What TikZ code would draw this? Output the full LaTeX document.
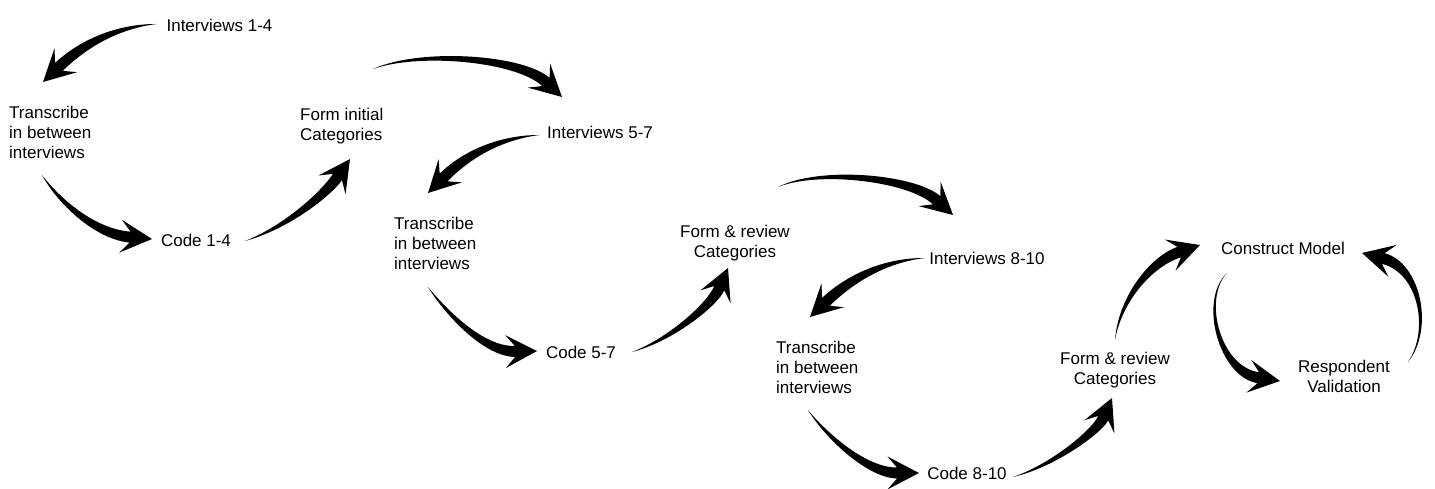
\documentclass[tikz,border=0pt]{standalone}
\usepackage{fontspec}
\setmainfont{Liberation Sans}
\usetikzlibrary{calc}
\tikzset{
  lbl/.style={inner sep=0pt, font=\fontsize{17}{20}\selectfont},
  arrowfill/.style={fill=black},
}
% #1 tail name, #2 first control (x,y), #3 second control (x,y), #4 tip name
\newcommand\swoosh[4]{%
  \coordinate (sw-a) at #2;
  \coordinate (sw-c) at #3;
  \coordinate (sw-b) at ($(#4)!22pt!(sw-c)$);
  \coordinate (sw-l1) at ($(sw-b)!5.5pt!90:(#4)$);
  \coordinate (sw-r1) at ($(sw-b)!5.5pt!-90:(#4)$);
  \coordinate (sw-cl) at ($(sw-c)!5pt!90:(#4)$);
  \coordinate (sw-cr) at ($(sw-c)!5pt!-90:(#4)$);
  \coordinate (sw-al) at ($(sw-a)!2.5pt!90:(sw-c)$);
  \coordinate (sw-ar) at ($(sw-a)!2.5pt!-90:(sw-c)$);
  \coordinate (sw-l2) at ($(sw-b)!19pt!120:(#4)$);
  \coordinate (sw-r2) at ($(sw-b)!19pt!-120:(#4)$);
  \fill[arrowfill] (#1) .. controls (sw-al) and (sw-cl) .. (sw-l1) -- (sw-l2) -- (#4)
     -- (sw-r2) -- (sw-r1) .. controls (sw-cr) and (sw-ar) .. (#1) -- cycle;
}
\begin{document}
\begin{tikzpicture}[x=1pt,y=-1pt]
\useasboundingbox[fill=white] (0,0) rectangle (1435,489);

% labels
\node[lbl] (i1) at (219.5,25) {Interviews 1-4};
\node[lbl, anchor=west, align=left] (t1) at (9,132) {Transcribe\\in between\\interviews};
\node[lbl, anchor=west, align=left] (f1) at (300,126) {Form initial\\Categories};
\node[lbl] (c1) at (196,240) {Code 1-4};
\node[lbl] (i2) at (600,132) {Interviews 5-7};
\node[lbl, anchor=west, align=left] (t2) at (394,243) {Transcribe\\in between\\interviews};
\node[lbl] (c2) at (581,352) {Code 5-7};
\node[lbl, align=center] (f2) at (735,243) {Form \& review\\Categories};
\node[lbl] (i3) at (987,258) {Interviews 8-10};
\node[lbl, anchor=west, align=left] (t3) at (776,367) {Transcribe\\in between\\interviews};
\node[lbl] (c3) at (967,473) {Code 8-10};
\node[lbl, align=center] (f3) at (1115,370) {Form \& review\\Categories};
\node[lbl] (cm) at (1283,248) {Construct Model};
\node[lbl, align=center] (rv) at (1344,376) {Respondent\\Validation};

% arrow end points
\coordinate (a1t) at (157,24);   \coordinate (a1p) at (43,82);
\coordinate (a2t) at (42,175);   \coordinate (a2p) at (152,239);
\coordinate (a3t) at (245,241);  \coordinate (a3p) at (350,159);
\coordinate (a4t) at (373,69);   \coordinate (a4p) at (562,97);
\coordinate (a5t) at (540,135);  \coordinate (a5p) at (428,193);
\coordinate (a6t) at (428,287);  \coordinate (a6p) at (537,351);
\coordinate (a7t) at (632,352);  \coordinate (a7p) at (728,268);
\coordinate (a8t) at (778,187);  \coordinate (a8p) at (953,215);
\coordinate (a9t) at (925,258);  \coordinate (a9p) at (810,317);
\coordinate (a10t) at (808,410); \coordinate (a10p) at (919,473);
\coordinate (a11t) at (1013,477);\coordinate (a11p) at (1112,398);
\coordinate (a12t) at (1115,340);\coordinate (a12p) at (1200,245);
\coordinate (a13t) at (1227,273);\coordinate (a13p) at (1280,381);
\coordinate (a14t) at (1408,362);\coordinate (a14p) at (1362,253);

% arrows
\swoosh{a1t}{(120,26)}{(85,42)}{a1p}
\swoosh{a2t}{(58,200)}{(94,234)}{a2p}
\swoosh{a3t}{(285,228)}{(325,195)}{a3p}
\swoosh{a4t}{(420,50)}{(520,58)}{a4p}
\swoosh{a5t}{(503,137)}{(468,153)}{a5p}
\swoosh{a6t}{(448,315)}{(485,352)}{a6p}
\swoosh{a7t}{(670,340)}{(712,305)}{a7p}
\swoosh{a8t}{(820,168)}{(912,178)}{a8p}
\swoosh{a9t}{(888,260)}{(853,276)}{a9p}
\swoosh{a10t}{(828,438)}{(868,473)}{a10p}
\swoosh{a11t}{(1055,465)}{(1098,430)}{a11p}
\swoosh{a12t}{(1120,300)}{(1150,262)}{a12p}
\swoosh{a13t}{(1200,300)}{(1220,372)}{a13p}
\swoosh{a14t}{(1432,330)}{(1420,268)}{a14p}
\end{tikzpicture}
\end{document}
